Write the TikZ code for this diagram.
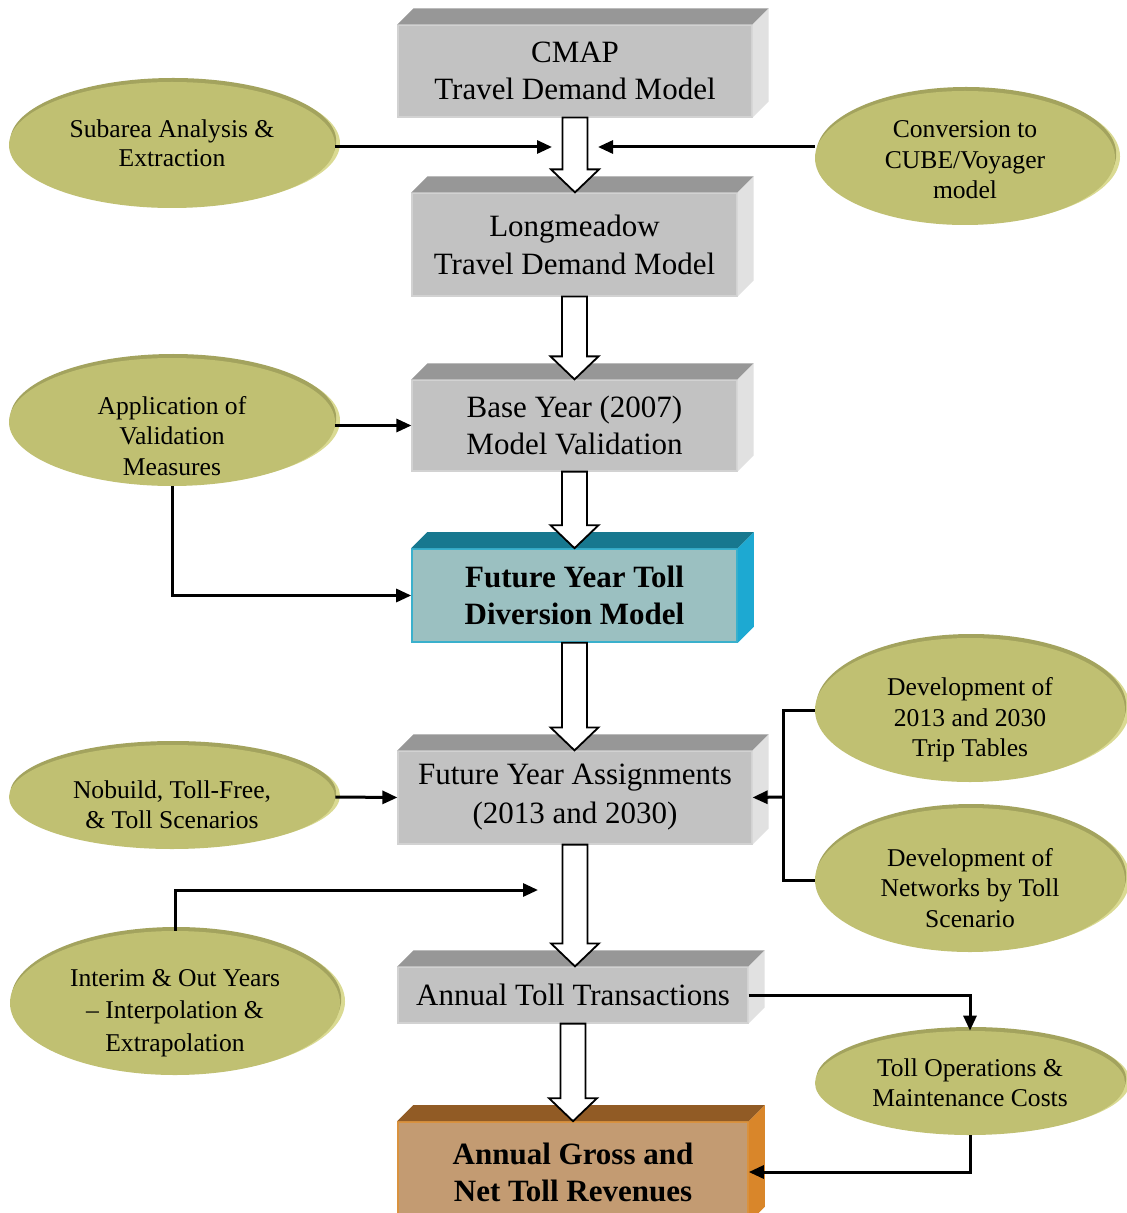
\documentclass[tikz,border=0pt]{standalone}
\usepackage{fontspec}
\setmainfont{Liberation Serif}
\usetikzlibrary{arrows.meta,calc,shapes.geometric}
\definecolor{gfront}{HTML}{C2C2C2}
\definecolor{gtop}{HTML}{979797}
\definecolor{gside}{HTML}{E1E1E1}
\definecolor{gedge}{HTML}{D2D2D2}
\definecolor{tfront}{HTML}{9BC0C1}
\definecolor{ttop}{HTML}{17788F}
\definecolor{tside}{HTML}{1DA9D2}
\definecolor{tedge}{HTML}{3AB0CC}
\definecolor{bfront}{HTML}{C39B72}
\definecolor{btop}{HTML}{915B25}
\definecolor{bside}{HTML}{D9862A}
\definecolor{bedge}{HTML}{D9923F}
\definecolor{olive}{HTML}{C0C072}
\definecolor{olivedark}{HTML}{A3A35E}
\definecolor{olivelight}{HTML}{DADA92}
\tikzset{
  boxnode/.style={rectangle, inner sep=0pt, align=center,
    font=\fontsize{15.5}{18.5}\selectfont},
  graybox/.style={boxnode, fill=gfront, draw=gedge, line width=0.6pt},
  tealbox/.style={boxnode, fill=tfront, draw=tedge, line width=0.8pt,
    font=\fontsize{15.5}{18.5}\selectfont\bfseries},
  brownbox/.style={boxnode, fill=bfront, draw=bedge, line width=0.8pt,
    font=\fontsize{15.5}{18.5}\selectfont\bfseries},
  ell/.style={ellipse, inner sep=0pt, fill=olive,
    preaction={fill=olivelight, transform canvas={shift={(2.5pt,0.8pt)}}},
    preaction={fill=olivedark, transform canvas={shift={(0.6pt,2pt)}}}},
  lbl/.style={align=center, inner sep=0pt, font=\fontsize{12.8}{15.2}\selectfont},
  conn/.style={line width=1.5pt, -{Triangle[length=7.5pt,width=6.5pt]}},
  link/.style={line width=1.5pt},
  barrow/.style={draw=black, fill=white, line width=0.9pt, line join=miter}
}
\newcommand\boxfaces[3]{%
  \fill[#2] (#1.north west) -- ++(16,-16) -- ($(#1.north east)+(16,-16)$) -- (#1.north east) -- cycle;
  \fill[#3] (#1.north east) -- ++(16,-16) -- ($(#1.south east)+(16,-16)$) -- (#1.south east) -- cycle;
}
\newcommand\blockarrow[2]{%
  \draw[barrow] ($(#1)+(-12.5,0)$) -- ($(#1 |- #2)+(-12.5,-23)$) -- ($(#1 |- #2)+(-24,-23)$) -- (#1 |- #2)
    -- ($(#1 |- #2)+(24,-23)$) -- ($(#1 |- #2)+(12.5,-23)$) -- ($(#1)+(12.5,0)$) -- cycle;
}
\begin{document}
\begin{tikzpicture}[x=0.5pt,y=-0.5pt]
\clip (0,0) rectangle (1127,1213);
\fill[white] (0,0) rectangle (1127,1213);

% boxes
\node[graybox, minimum width=177pt, minimum height=46pt] (b1) at (575,71) {CMAP\\Travel Demand Model};
\node[graybox, minimum width=162.5pt, minimum height=51.5pt] (b2) at (574.5,244.5) {Longmeadow\\[0.5pt]Travel Demand Model};
\node[graybox, minimum width=162.5pt, minimum height=45.5pt] (b3) at (574.5,425.5) {Base Year (2007)\\Model Validation};
\node[tealbox, minimum width=162.5pt, minimum height=46.5pt] (b4) at (574.5,595.5) {Future Year Toll\\Diversion Model};
\node[graybox, minimum width=177pt, minimum height=46.5pt] (b5) at (575,797.5) {Future Year Assignments\\[1pt](2013 and 2030)};
\node[graybox, minimum width=175pt, minimum height=28pt] (b6) at (573,995) {Annual Toll Transactions};
\node[brownbox, minimum width=175pt, minimum height=50pt] (b7) at (573,1172) {Annual Gross and\\Net Toll Revenues};
\boxfaces{b1}{gtop}{gside}
\boxfaces{b2}{gtop}{gside}
\boxfaces{b3}{gtop}{gside}
\boxfaces{b4}{ttop}{tside}
\boxfaces{b5}{gtop}{gside}
\boxfaces{b6}{gtop}{gside}
\boxfaces{b7}{btop}{bside}

% ellipses
\node[ell, minimum width=163pt, minimum height=63pt,
  label={[lbl, yshift=1pt]center:{Subarea Analysis \&\\[-0.5pt]Extraction}}] (e1) at (172,145) {};
\node[ell, minimum width=150pt, minimum height=67pt,
  label={[lbl, yshift=-1pt]center:{Conversion to\\CUBE/Voyager\\model}}] (e2) at (965,158) {};
\node[ell, minimum width=163pt, minimum height=64pt,
  label={[lbl, yshift=-7pt]center:{Application of\\Validation\\Measures}}] (e3) at (172,422) {};
\node[ell, minimum width=155pt, minimum height=72pt,
  label={[lbl, yshift=-5pt]center:{Development of\\2013 and 2030\\Trip Tables}}] (e4) at (970,710) {};
\node[ell, minimum width=155pt, minimum height=72pt,
  label={[lbl, yshift=-4pt]center:{Development of\\Networks by Toll\\Scenario}}] (e5) at (970,880) {};
\node[ell, minimum width=163pt, minimum height=52pt,
  label={[lbl, yshift=-4pt]center:{Nobuild, Toll-Free,\\\& Toll Scenarios}}] (e6) at (172,797) {};
\node[ell, minimum width=165pt, minimum height=72pt,
  label={[lbl, yshift=-5pt]center:{Interim \& Out Years\\[1pt]– Interpolation \&\\[1pt]Extrapolation}}] (e7) at (175,1003) {};
\node[ell, minimum width=155pt, minimum height=52pt,
  label={[lbl, yshift=0pt]center:{Toll Operations \&\\Maintenance Costs}}] (e8) at (970,1083) {};

% block arrows
\blockarrow{b1.south}{b2.north}
\blockarrow{b2.south}{b3.north}
\blockarrow{b3.south}{b4.north}
\blockarrow{b4.south}{b5.north}
\blockarrow{b5.south}{b6.north}
\blockarrow{b6.south}{b7.north}

% connectors
\coordinate (t1) at (552,147);
\coordinate (t2) at (598,147);
\draw[conn] (e1.east |- t1) -- (t1);
\draw[conn] (e2.west |- t2) -- (t2);
\draw[conn] (e3.east |- b3.west) -- (b3.west);
\draw[conn] (e3.south) |- (b4.west);
\draw[conn] (e6.east) -- (b5.west);
\coordinate (j) at (783,797);
\draw[link] (e4.west) -| (j) |- (e5.west);
\draw[conn] (j) -- (b5.east);
\coordinate (t7) at (538,890);
\draw[conn] (e7.north) |- (t7);
\draw[conn] (b6.east) -| (e8.north);
\draw[conn] (e8.south) |- (b7.east);
\end{tikzpicture}
\end{document}
